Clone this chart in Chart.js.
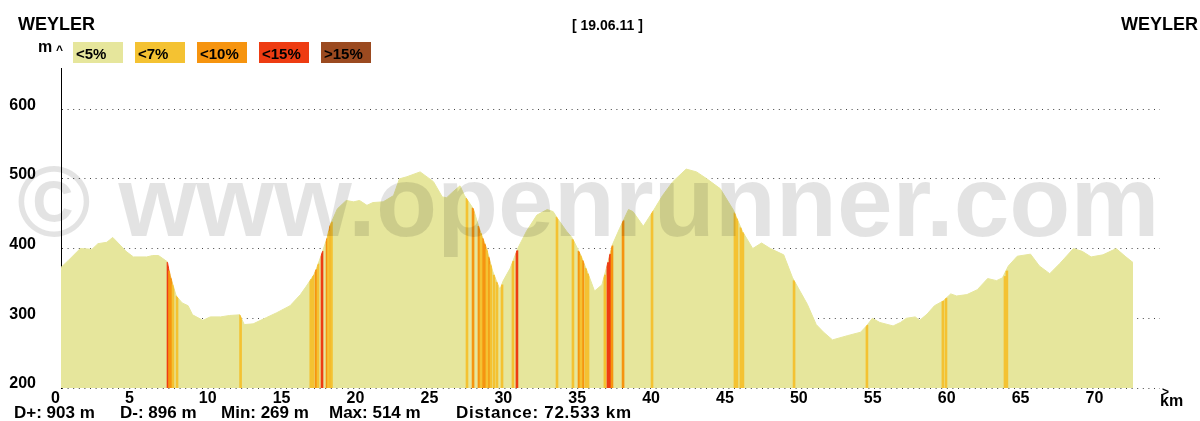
<!DOCTYPE html>
<html><head><meta charset="utf-8">
<script src="https://cdn.jsdelivr.net/npm/chart.js@4/dist/chart.umd.min.js"></script>
<style>
html,body{margin:0;padding:0;background:#fff;}
#wrap{position:relative;width:1200px;height:421px;overflow:hidden;font-family:'Liberation Sans',Arial,Helvetica,sans-serif;font-weight:bold;color:#000;}
#wrap canvas{position:absolute;left:0;top:0;}
.t{position:absolute;white-space:pre;line-height:1;}
.lg{position:absolute;top:42px;width:50px;height:21px;}
#wm{position:absolute;white-space:pre;line-height:1;color:rgba(0,0,0,0.11);pointer-events:none;}
</style></head><body>
<div id="wrap"><canvas id="c" width="1200" height="421"></canvas></div>
<script>
// ---- data ----
const kmValues = [0.0,0.5,1.3,2.1,2.5,3.1,3.5,4.0,4.4,4.9,5.8,6.2,6.6,7.2,7.25,7.4,7.6,7.8,8.2,8.6,8.9,9.6,10.1,10.8,11.4,12.1,12.4,13.0,13.9,14.6,15.5,16.2,16.6,17.1,17.3,17.7,18.0,18.2,18.7,19.3,19.8,20.2,20.7,21.1,21.8,22.5,22.9,23.4,24.3,25.2,25.8,26.1,26.5,27.0,27.3,27.9,28.3,28.8,29.2,29.7,29.9,30.4,30.9,31.5,32.2,32.9,33.3,33.6,34.2,34.6,35.2,35.7,36.1,36.6,36.9,37.3,37.8,38.4,38.7,39.4,40.1,40.7,41.4,42.3,43.0,43.7,44.6,45.5,46.1,46.8,47.4,48.0,48.9,49.5,50.0,50.5,51.1,51.6,52.2,53.2,54.1,54.5,54.9,55.4,56.3,56.8,57.2,57.8,58.1,58.6,59.1,59.7,60.2,60.6,61.3,62.0,62.7,63.3,63.7,64.1,64.7,65.6,66.2,66.9,67.6,68.5,69.1,69.7,70.5,71.0,71.4,72.0,72.533];
const elevationValues = [373,383,400,399,407,409,416,405,396,388,388,390,390,381,375,361,346,332,322,318,305,297,302,302,304,305,291,292,301,308,318,334,346,362,372,396,415,433,457,469,467,469,462,466,467,476,500,503,510,496,474,473,481,490,476,457,429,400,368,341,353,372,400,425,448,456,453,443,425,415,389,362,339,348,372,405,429,456,453,432,455,476,496,514,510,500,486,455,425,400,408,400,391,358,339,320,291,280,269,275,280,289,300,294,289,294,300,302,297,306,318,325,335,332,334,341,357,354,358,375,389,392,375,364,379,400,396,388,391,396,400,389,380];

// steep sections (coloured stripes): position, top elevation, gradient class (1:<7%, 2:<10%, 3:<15%)
const stripeKm    = [7.24,7.34,7.45,7.58,7.85,12.15,16.9,17.05,17.25,17.39,17.66,18.0,18.1,18.2,18.3,27.47,27.88,28.28,28.42,28.55,28.69,28.82,28.96,29.09,29.3,29.5,29.84,30.58,30.85,33.56,34.64,35.05,35.18,35.32,35.52,35.66,36.8,37.0,37.15,37.28,38.03,39.99,45.6,45.74,46.0,46.14,49.6,54.53,59.67,59.88,63.87,64.0];
const stripeTop   = [380,368,358,348,332,305,356,362,370,378,396,415,425,433,438,472,458,432,422,415,407,399,388,377,362,352,348,382,397,445,413,396,390,383,372,364,362,380,392,404,440,455,451,444,430,423,354,290,325,329,360,368];
const stripeClass = [3,2,2,1,1,1,1,1,2,1,3,2,1,2,1,1,2,2,1,2,2,1,2,1,1,1,1,1,3,1,1,2,1,2,1,1,1,3,3,2,2,1,1,1,1,1,1,1,1,1,1,1];

const yTickValues = [200,300,400,500,600];
const xTickValues = [0,5,10,15,20,25,30,35,40,45,50,55,60,65,70];
const legendLabels = ['<5%','<7%','<10%','<15%','>15%'];
const gradeColors = ['#e6e69c','#f4c232','#f6940f','#ee3c12','#9b4a20'];
const titleLeft = 'WEYLER', titleRight = 'WEYLER', titleDate = '[ 19.06.11 ]';
const statsTexts = ['D+: 903 m','D-: 896 m','Min: 269 m','Max: 514 m','Distance: 72.533 km'];
const watermarkText = '\u00A9 www.openrunner.com';

// ---- layout helpers ----
const FONT = "'Liberation Sans', Arial, Helvetica, sans-serif";
const wrap = document.getElementById('wrap');
function addText(str, left, baseline, size, cls) {
  const d = document.createElement('div');
  d.className = cls || 't';
  d.textContent = str;
  d.style.fontSize = size + 'px';
  d.style.left = left + 'px';
  d.style.top = (baseline - 0.8465 * size) + 'px';
  wrap.appendChild(d);
  return d;
}

// ---- chart ----
const stripeDatasets = [1,2,3].map(c => ({
  type: 'bar',
  label: legendLabels[c],
  data: stripeKm.map((k,i) => ({x:k, y:[200, stripeTop[i]], c:stripeClass[i]})).filter(p => p.c === c),
  backgroundColor: gradeColors[c],
  borderWidth: 0,
  barThickness: 2,
  grouped: false,
  order: 1
}));

const stripeClip = {
  id: 'stripeClip',
  beforeDatasetDraw(chart, args) {
    if (args.meta.type === 'bar') { chart.ctx.save(); chart.ctx.globalCompositeOperation = 'source-atop'; }
  },
  afterDatasetDraw(chart, args) {
    if (args.meta.type === 'bar') { chart.ctx.restore(); }
  }
};

new Chart(document.getElementById('c'), {
  type: 'line',
  data: {
    datasets: [{
      label: legendLabels[0],
      data: kmValues.map((k,i) => ({x:k, y:elevationValues[i]})),
      borderColor: gradeColors[0],
      backgroundColor: gradeColors[0],
      borderWidth: 1,
      pointRadius: 0,
      tension: 0,
      fill: 'start',
      order: 5
    }, ...stripeDatasets]
  },
  options: {
    responsive: false,
    animation: false,
    devicePixelRatio: 1,
    layout: { padding: { left: 0, right: 40, top: 68, bottom: 0 } },
    plugins: { legend: { display: false }, tooltip: { enabled: false } },
    events: [],
    scales: {
      x: {
        type: 'linear', min: 0, max: 74.36, offset: false,
        afterBuildTicks: s => { s.ticks = xTickValues.map(v => ({value: v})); },
        afterFit: s => { s.height = 29; },
        grid: { display: false, drawTicks: false, offset: false },
        border: { display: false },
        ticks: { align: 'start', labelOffset: -10, padding: 3, autoSkip: false, maxRotation: 0,
                 color: '#000', font: { family: FONT, size: 16, weight: 'bold', lineHeight: 1 } }
      },
      y: {
        type: 'linear', min: 200, max: 659,
        afterBuildTicks: s => { s.ticks = yTickValues.map(v => ({value: v})); },
        afterFit: s => { s.width = 61; },
        grid: { color: '#444', lineWidth: 1, drawTicks: false },
        border: { display: true, color: '#000', width: 1, dash: [1, 4.6] },
        ticks: { padding: 25, labelOffset: -4, color: '#000',
                 font: { family: FONT, size: 16, weight: 'bold', lineHeight: 1 } }
      }
    }
  },
  plugins: [stripeClip]
});

// ---- texts around the chart ----
addText(titleLeft, 18, 30, 18);
addText(titleDate, 572, 30, 14);
addText(titleRight, 1121, 30, 18);
addText('m', 38, 53, 16);
addText('^', 56, 54.6, 12);
addText('>', 1162, 396, 12);
addText('km', 1160, 407, 16);

const legendLefts = [73,135,197,259,321];
legendLabels.forEach((l,i) => {
  const b = document.createElement('div');
  b.className = 'lg';
  b.style.left = legendLefts[i] + 'px';
  b.style.background = gradeColors[i];
  wrap.appendChild(b);
  addText(l, legendLefts[i] + 3, 59, 15);
});

const statLefts = [14,120,221,329,456];
statsTexts.forEach((s,i) => {
  const d = addText(s, statLefts[i], 418, 17);
  if (i === 4) d.style.letterSpacing = '0.7px';
});

addText(watermarkText, 17, 236, 100, '').id = 'wm';
</script>
</body></html>
